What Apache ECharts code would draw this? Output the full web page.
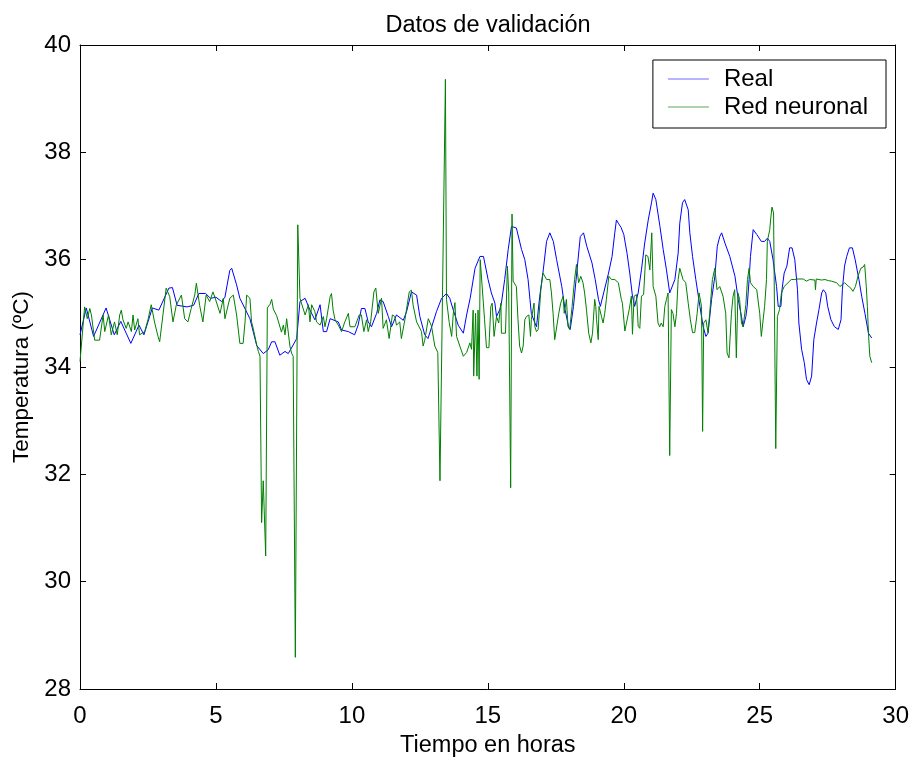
<!DOCTYPE html>
<html>
<head>
<meta charset="utf-8">
<script src="https://cdn.jsdelivr.net/npm/echarts@6/dist/echarts.min.js"></script>
<style>html,body{margin:0;padding:0;background:#fff}#c{width:912px;height:763px}</style>
</head>
<body>
<div id="c"></div>
<script>
const realTime = [0.0,0.23,0.5,0.96,1.26,1.5,1.87,2.17,2.35,2.66,2.9,3.27,3.4,3.57,3.94,4.18,4.37,4.62,4.8,5.0,5.21,5.33,5.51,5.58,5.76,5.88,6.25,6.5,6.74,6.92,7.05,7.17,7.35,7.54,7.66,7.84,7.97,8.09,8.28,8.46,8.64,8.83,8.95,9.07,9.2,9.5,9.62,9.87,10.1,10.23,10.35,10.48,10.6,10.72,10.91,11.03,11.15,11.34,11.46,11.64,11.89,12.01,12.19,12.38,12.5,12.68,12.8,13.11,13.3,13.48,13.6,13.73,13.91,14.1,14.22,14.35,14.53,14.71,14.84,15.01,15.13,15.26,15.32,15.44,15.5,15.62,15.75,15.87,16.05,16.24,16.36,16.48,16.55,16.6,16.73,16.79,16.91,17.04,17.16,17.28,17.41,17.53,17.72,17.84,17.97,18.03,18.15,18.27,18.4,18.52,18.64,18.83,18.95,19.07,19.14,19.26,19.44,19.57,19.67,19.73,19.8,19.9,20.0,20.12,20.22,20.32,20.4,20.53,20.65,20.77,20.9,21.02,21.08,21.18,21.33,21.45,21.57,21.69,21.75,21.88,22.0,22.06,22.16,22.24,22.37,22.43,22.53,22.65,22.8,22.92,23.02,23.1,23.23,23.35,23.44,23.53,23.6,23.72,23.9,24.09,24.21,24.33,24.39,24.49,24.54,24.61,24.66,24.76,24.89,25.06,25.18,25.28,25.37,25.49,25.62,25.68,25.78,25.82,25.9,26.0,26.1,26.19,26.29,26.39,26.44,26.54,26.64,26.72,26.82,26.91,26.99,27.09,27.18,27.28,27.34,27.43,27.5,27.62,27.75,27.89,27.99,28.04,28.12,28.2,28.3,28.41,28.51,28.65,28.75,28.87,29.0,29.12];
const realTemp = [34.6,35.1,34.57,35.1,34.6,34.85,34.44,34.78,34.6,35.1,35.06,35.47,35.48,35.15,35.12,35.15,35.37,35.37,35.28,35.3,35.22,35.3,35.8,35.84,35.53,35.28,34.9,34.4,34.25,34.32,34.47,34.47,34.22,34.29,34.25,34.41,34.53,35.22,35.28,35.06,34.88,35.16,34.66,34.66,34.9,34.84,34.69,34.66,34.6,34.78,35.09,35.09,34.84,34.75,35.0,35.25,35.22,34.94,34.75,34.97,34.87,35.03,35.4,35.34,34.94,34.6,34.53,35.03,35.28,35.37,35.28,35.06,34.78,34.63,34.97,35.28,35.84,36.06,36.06,35.63,35.38,35.19,34.94,35.07,35.19,35.63,36.19,36.62,36.59,36.19,36.0,35.63,35.26,35.0,34.82,34.75,35.32,35.81,36.34,36.5,36.34,36.0,35.5,35.07,34.75,34.7,35.13,35.75,36.43,36.5,36.25,35.94,35.63,35.26,35.13,35.38,35.75,36.06,36.5,36.74,36.68,36.6,36.47,36.12,35.75,35.32,35.13,35.38,35.81,36.31,36.74,37.06,37.24,37.12,36.62,36.19,35.81,35.38,35.38,35.63,36.12,36.68,37.06,37.12,36.93,36.5,36.06,35.63,35.13,34.75,34.57,34.63,35.26,35.69,36.25,36.43,36.5,36.31,36.06,35.69,35.26,34.94,34.75,34.94,35.13,35.63,36.06,36.56,36.47,36.34,36.34,36.4,36.34,36.0,35.5,35.13,35.13,35.44,35.75,35.88,36.22,36.22,36.0,35.44,34.82,34.33,34.08,33.77,33.67,33.83,34.51,34.82,35.07,35.38,35.44,35.38,35.13,34.88,34.75,34.7,34.88,35.44,35.88,36.06,36.22,36.22,36.0,35.63,35.32,35.0,34.63,34.54];

const redTime = [0.0,0.17,0.27,0.36,0.42,0.54,0.72,0.85,0.91,1.05,1.15,1.27,1.37,1.46,1.52,1.58,1.7,1.77,1.89,1.95,2.01,2.13,2.19,2.38,2.5,2.62,2.74,2.87,2.93,3.05,3.17,3.3,3.42,3.54,3.73,3.85,3.97,4.09,4.22,4.28,4.4,4.52,4.64,4.77,4.89,4.96,5.15,5.27,5.33,5.39,5.51,5.64,5.76,5.88,6.0,6.07,6.13,6.25,6.31,6.37,6.5,6.56,6.62,6.68,6.74,6.78,6.83,6.89,6.99,7.05,7.11,7.23,7.29,7.41,7.48,7.54,7.6,7.72,7.78,7.84,7.92,8.01,8.09,8.28,8.4,8.46,8.52,8.64,8.7,8.83,8.95,9.01,9.07,9.2,9.25,9.31,9.38,9.5,9.62,9.74,9.87,9.93,10.11,10.27,10.35,10.44,10.54,10.6,10.69,10.81,10.88,10.97,11.09,11.15,11.27,11.37,11.49,11.58,11.64,11.76,11.82,11.95,12.01,12.11,12.19,12.25,12.38,12.56,12.62,12.68,12.81,12.93,13.05,13.16,13.24,13.44,13.48,13.58,13.67,13.73,13.79,13.85,13.97,14.1,14.22,14.34,14.4,14.46,14.48,14.55,14.6,14.64,14.68,14.72,14.88,14.95,15.04,15.11,15.16,15.23,15.32,15.4,15.48,15.5,15.65,15.72,15.77,15.84,15.89,15.93,15.99,16.05,16.11,16.17,16.24,16.3,16.36,16.42,16.51,16.57,16.6,16.7,16.73,16.79,16.85,16.95,17.03,17.09,17.16,17.28,17.34,17.4,17.46,17.53,17.61,17.68,17.77,17.81,17.89,17.95,18.01,18.1,18.19,18.26,18.34,18.42,18.5,18.56,18.63,18.71,18.79,18.85,18.93,18.97,19.0,19.06,19.09,19.18,19.24,19.3,19.36,19.45,19.48,19.55,19.67,19.8,19.91,19.95,20.04,20.1,20.2,20.28,20.32,20.38,20.47,20.53,20.59,20.65,20.73,20.81,20.89,20.96,21.03,21.08,21.18,21.26,21.32,21.38,21.45,21.51,21.57,21.63,21.69,21.75,21.81,21.88,21.94,22.0,22.06,22.12,22.18,22.28,22.37,22.45,22.53,22.61,22.7,22.77,22.86,22.9,22.94,23.02,23.1,23.16,23.26,23.35,23.43,23.53,23.65,23.75,23.8,23.87,23.96,24.02,24.08,24.14,24.2,24.26,24.33,24.39,24.49,24.55,24.61,24.66,24.76,24.89,25.0,25.06,25.12,25.18,25.25,25.28,25.37,25.4,25.45,25.51,25.59,25.65,25.73,25.8,25.9,26.04,26.16,26.29,26.41,26.6,26.72,26.78,26.84,27.03,27.05,27.08,27.15,27.27,27.4,27.52,27.64,27.83,27.95,28.01,28.13,28.25,28.35,28.43,28.52,28.62,28.72,28.8,28.86,28.92,28.96,29.0,29.05,29.12];
const redTemp = [34.1,35.12,34.9,35.09,34.97,34.5,34.5,34.97,34.66,34.97,34.6,34.84,34.6,34.97,35.06,34.88,34.72,34.84,34.66,34.97,34.69,34.9,34.6,34.66,34.88,35.16,34.84,34.57,34.47,34.97,35.47,35.31,34.84,35.15,35.34,34.9,34.84,35.09,35.34,35.56,35.15,34.84,35.34,35.22,35.4,35.3,35.0,35.28,34.9,34.9,35.28,35.34,34.97,34.44,34.44,34.84,35.34,35.28,34.84,34.72,34.41,34.29,34.2,31.1,31.88,31.88,30.48,35.1,35.17,35.26,35.08,34.96,34.86,34.65,34.78,34.6,34.9,34.39,34.26,34.2,28.59,36.65,35.28,34.97,35.16,34.84,35.16,35.03,34.84,34.78,34.94,34.75,34.9,35.31,35.37,35.06,34.88,34.78,34.66,34.84,35.0,34.75,34.75,34.97,34.97,34.66,34.88,34.66,34.84,35.4,35.47,35.0,35.28,34.72,34.88,34.53,34.97,34.94,34.78,34.84,34.53,34.88,34.88,35.4,35.43,35.16,34.84,34.66,34.39,34.5,34.9,34.76,34.39,34.27,31.88,39.36,35.26,34.83,34.57,35.0,35.2,34.57,34.39,34.2,34.27,34.45,34.33,35.06,33.83,35.0,33.83,35.06,33.77,36.0,34.88,34.36,34.36,35.13,35.19,34.57,34.94,34.82,35.19,34.63,34.63,35.88,35.38,31.75,36.85,35.6,35.63,35.5,34.88,34.39,34.26,34.39,34.88,34.94,34.97,34.57,34.88,35.19,34.75,34.66,34.7,35.44,35.75,35.78,35.63,35.63,35.38,35.0,34.51,34.48,35.0,35.19,35.32,35.0,35.26,34.75,34.7,35.13,35.63,35.91,35.57,35.69,35.57,35.38,35.06,34.63,34.45,34.63,35.26,35.13,34.88,34.51,35.13,34.94,34.82,35.0,35.26,35.69,35.69,35.63,35.63,35.57,35.26,35.19,34.67,34.67,35.07,35.32,34.61,35.32,35.35,34.76,34.72,35.32,35.35,36.09,36.06,35.81,36.5,35.5,35.32,34.82,34.75,34.82,34.75,35.13,35.26,35.38,32.35,35.07,35.0,34.75,35.0,35.63,35.84,35.81,35.63,35.57,35.19,34.88,34.64,34.64,35.0,35.38,35.13,32.8,34.82,34.88,34.64,35.0,35.63,35.84,35.44,35.5,35.32,35.0,34.26,34.17,35.0,35.32,35.44,34.17,35.38,35.26,34.82,34.75,35.16,35.63,35.84,35.57,35.5,35.44,35.0,34.57,34.57,35.13,35.63,36.34,36.56,36.74,36.98,36.87,32.48,34.94,35.07,35.38,35.5,35.57,35.63,35.63,35.64,35.64,35.6,35.57,35.63,35.62,35.44,35.64,35.63,35.62,35.63,35.61,35.6,35.57,35.5,35.53,35.57,35.51,35.47,35.41,35.5,35.7,35.84,35.86,35.91,35.5,35.13,34.63,34.2,34.08];

const xTicks = [0, 30, 5];
const yTicks = [28, 40, 2];
const seriesNames = ['Real', 'Red neuronal'];

const zip = (t, v) => t.map((x, i) => [x, v[i]]);
const font = '"Liberation Sans", Arial, sans-serif';
const chart = echarts.init(document.getElementById('c'), null, {renderer: 'canvas'});
const axisCommon = {
  axisLine: {show: true, onZero: false, lineStyle: {color: '#000', width: 1}},
  axisTick: {show: true, inside: true, length: 6, lineStyle: {color: '#000'}},
  splitLine: {show: false}
};
chart.setOption({
  backgroundColor: '#fff',
  animation: false,
  title: {text: 'Datos de validación', left: 483, textAlign: 'center', top: 9,
    textStyle: {fontFamily: font, fontSize: 23.5, fontWeight: 'normal', color: '#000'}},
  legend: {
    orient: 'vertical', right: 26, top: 60,
    borderColor: '#000', borderWidth: 1, padding: [7, 18, 9, 15],
    itemWidth: 41, itemHeight: 1, itemGap: 4, icon: 'rect',
    textStyle: {fontFamily: font, fontSize: 24, color: '#000', padding: [0, 0, 0, 10]},
    data: [
      {name: seriesNames[0], itemStyle: {color: '#6f6fff'}},
      {name: seriesNames[1], itemStyle: {color: '#5aa85a'}}
    ]
  },
  grid: {left: 80, right: 15, top: 45, bottom: 73},
  xAxis: [
    Object.assign({type: 'value', position: 'bottom', min: xTicks[0], max: xTicks[1], interval: xTicks[2],
      name: 'Tiempo en horas', nameLocation: 'middle', nameGap: 45,
      nameTextStyle: {fontFamily: font, fontSize: 23.5, color: '#000'},
      axisLabel: {fontFamily: font, fontSize: 24, color: '#000', margin: 15}}, axisCommon),
    Object.assign({type: 'value', position: 'top', min: xTicks[0], max: xTicks[1], interval: xTicks[2],
      axisLabel: {show: false}}, axisCommon)
  ],
  yAxis: [
    Object.assign({type: 'value', position: 'left', min: yTicks[0], max: yTicks[1], interval: yTicks[2],
      name: 'Temperatura (ºC)', nameLocation: 'middle', nameGap: 47,
      nameTextStyle: {fontFamily: font, fontSize: 22.5, color: '#000', padding: [0, 20, 0, 0]},
      axisLabel: {fontFamily: font, fontSize: 24, color: '#000', margin: 9}}, axisCommon),
    Object.assign({type: 'value', position: 'right', min: yTicks[0], max: yTicks[1], interval: yTicks[2],
      axisLabel: {show: false}}, axisCommon)
  ],
  series: [
    {name: seriesNames[0], type: 'line', data: zip(realTime, realTemp), showSymbol: false, symbol: 'none',
      lineStyle: {color: '#0000ff', width: 1}, itemStyle: {color: '#0000ff'}, z: 3},
    {name: seriesNames[1], type: 'line', data: zip(redTime, redTemp), showSymbol: false, symbol: 'none',
      lineStyle: {color: '#008000', width: 1}, itemStyle: {color: '#008000'}, z: 4}
  ]
});
</script>
</body>
</html>
